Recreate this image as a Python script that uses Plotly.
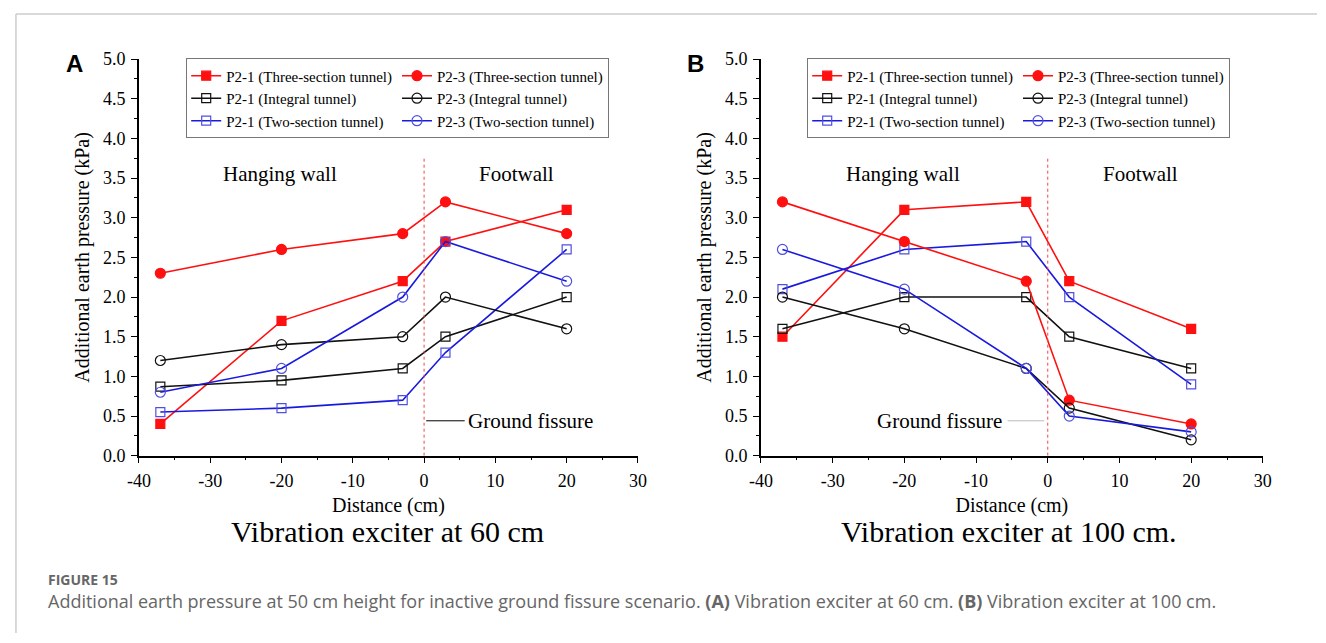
import plotly.graph_objects as go

distance = [-37, -20, -3, 3, 20]

# Panel A: vibration exciter at 60 cm
a_p21_three = [0.4, 1.7, 2.2, 2.7, 3.1]
a_p23_three = [2.3, 2.6, 2.8, 3.2, 2.8]
a_p21_integral = [0.87, 0.95, 1.1, 1.5, 2.0]
a_p23_integral = [1.2, 1.4, 1.5, 2.0, 1.6]
a_p21_two = [0.55, 0.6, 0.7, 1.3, 2.6]
a_p23_two = [0.8, 1.1, 2.0, 2.7, 2.2]

# Panel B: vibration exciter at 100 cm
b_p21_three = [1.5, 3.1, 3.2, 2.2, 1.6]
b_p23_three = [3.2, 2.7, 2.2, 0.7, 0.4]
b_p21_integral = [1.6, 2.0, 2.0, 1.5, 1.1]
b_p23_integral = [2.0, 1.6, 1.1, 0.6, 0.2]
b_p21_two = [2.1, 2.6, 2.7, 2.0, 0.9]
b_p23_two = [2.6, 2.1, 1.1, 0.5, 0.3]

series_names = [
    "P2-1 (Three-section tunnel)", "P2-1 (Integral tunnel)", "P2-1 (Two-section tunnel)",
    "P2-3 (Three-section tunnel)", "P2-3 (Integral tunnel)", "P2-3 (Two-section tunnel)",
]

x_tick_values = [-40, -30, -20, -10, 0, 10, 20, 30]
x_tick_labels = ["-40", "-30", "-20", "-10", "0", "10", "20", "30"]
y_tick_values = [0.0, 0.5, 1.0, 1.5, 2.0, 2.5, 3.0, 3.5, 4.0, 4.5, 5.0]
y_tick_labels = ["0.0", "0.5", "1.0", "1.5", "2.0", "2.5", "3.0", "3.5", "4.0", "4.5", "5.0"]

W, H = 1326, 643
SERIF = "Liberation Serif"
RED = "#ff1010"
BLUE = "#1a1adf"
BLACK = "#111111"

styles = [
    dict(color=RED, symbol="square", fill=RED, size=9, group="P21"),
    dict(color=BLACK, symbol="square-open", fill=BLACK, size=9, group="P21"),
    dict(color=BLUE, symbol="square-open", fill="#5050e0", size=9, group="P21"),
    dict(color=RED, symbol="circle", fill=RED, size=10, group="P23"),
    dict(color=BLACK, symbol="circle-open", fill=BLACK, size=10, group="P23"),
    dict(color=BLUE, symbol="circle-open", fill="#5050e0", size=10, group="P23"),
]

panel_a = [a_p21_three, a_p21_integral, a_p21_two, a_p23_three, a_p23_integral, a_p23_two]
panel_b = [b_p21_three, b_p21_integral, b_p21_two, b_p23_three, b_p23_integral, b_p23_two]

fig = go.Figure()

def add_panel(values, xa, ya, legend):
    for name, vals, st in zip(series_names, values, styles):
        fig.add_trace(go.Scatter(
            x=distance, y=vals, name=name, mode="lines+markers",
            xaxis=xa, yaxis=ya, legend=legend, legendgroup=legend + st["group"],
            line=dict(color=st["color"], width=1.6),
            marker=dict(symbol=st["symbol"], size=st["size"], color=st["fill"],
                        line=dict(color=st["fill"], width=1.2)),
        ))

add_panel(panel_a, "x", "y", "legend")
add_panel(panel_b, "x2", "y2", "legend2")

def px_x(p):
    return p / W

def px_y(p):
    return 1 - p / H

y_dom = [px_y(460), px_y(50.7)]

axis_common = dict(
    showline=True, linecolor="black", linewidth=1.6, showgrid=False, zeroline=False,
    ticks="outside", ticklen=6, tickwidth=1.4, tickcolor="black",
    tickfont=dict(family=SERIF, size=18, color="black"),
    ticklabelstandoff=2, mirror=False,
)

xaxis_common = dict(axis_common, range=[-40, 30], tickmode="array",
                    tickvals=x_tick_values, ticktext=x_tick_labels,
                    title=dict(text="Distance (cm)", font=dict(family=SERIF, size=20, color="black"), standoff=8))
xaxis_common["minor"] = dict(ticks="outside", ticklen=3, tickwidth=1.2, tickcolor="black",
                             tickmode="linear", tick0=-35, dtick=10)
yaxis_common = dict(axis_common, range=[0, 5.0], tickmode="array",
                    tickvals=y_tick_values, ticktext=y_tick_labels,
                    title=dict(text="Additional earth pressure (kPa)", font=dict(family=SERIF, size=20, color="black"), standoff=8))
yaxis_common["minor"] = dict(ticks="outside", ticklen=3, tickwidth=1.2, tickcolor="black",
                             tickmode="linear", tick0=0.25, dtick=0.5)

fig.update_layout(
    width=W, height=H, autosize=False,
    margin=dict(l=0, r=0, t=0, b=0),
    paper_bgcolor="white", plot_bgcolor="white",
    xaxis=dict(xaxis_common, domain=[px_x(129), px_x(636)], anchor="y"),
    yaxis=dict(yaxis_common, domain=y_dom, anchor="x"),
    xaxis2=dict(xaxis_common, domain=[px_x(761), px_x(1271)], anchor="y2"),
    yaxis2=dict(yaxis_common, domain=y_dom, anchor="x2"),
    showlegend=True,
)

legend_common = dict(
    orientation="h", traceorder="grouped", yanchor="top", xanchor="left",
    bgcolor="white", bordercolor="#777777", borderwidth=1,
    font=dict(family=SERIF, size=15, color="black"),
    itemwidth=30, tracegroupgap=0,
)
fig.update_layout(
    legend=dict(legend_common, x=px_x(177), y=px_y(50)),
    legend2=dict(legend_common, x=px_x(808), y=px_y(50)),
)

# ground fissure (dotted vertical line at distance 0)
for xa, ya in [("x", "y"), ("x2", "y2")]:
    fig.add_shape(type="line", xref=xa, yref=ya, x0=0, x1=0, y0=0, y1=3.75,
                  line=dict(color="#ee4444", width=1, dash="dot"))

ann_font = dict(family=SERIF, size=21, color="black")
for xa, ya in [("x", "y"), ("x2", "y2")]:
    fig.add_annotation(xref=xa, yref=ya, x=-20.2, y=3.55, text="Hanging wall",
                       xanchor="center", yanchor="middle", showarrow=False, font=ann_font)
    fig.add_annotation(xref=xa, yref=ya, x=12.9, y=3.55, text="Footwall",
                       xanchor="center", yanchor="middle", showarrow=False, font=ann_font)

fig.add_shape(type="line", xref="x", yref="y", x0=0.3, x1=5.7, y0=0.44, y1=0.44,
              line=dict(color="black", width=1))
fig.add_annotation(xref="x", yref="y", x=5.9, y=0.44, text="Ground fissure", xanchor="left",
                   yanchor="middle", showarrow=False, font=ann_font)
fig.add_shape(type="line", xref="x2", yref="y2", x0=-5.6, x1=-0.5, y0=0.44, y1=0.44,
              line=dict(color="#bbbbbb", width=1))
fig.add_annotation(xref="x2", yref="y2", x=-6.1, y=0.44, text="Ground fissure", xanchor="right",
                   yanchor="middle", showarrow=False, font=ann_font)

for lx, letter in [(63, "A"), (694, "B")]:
    fig.add_annotation(xref="paper", yref="paper", x=px_x(lx), y=px_y(55), text="<b>%s</b>" % letter,
                       xanchor="center", yanchor="middle", showarrow=False,
                       font=dict(family="Liberation Sans", size=24, color="black"))

fig.add_annotation(xref="paper", yref="paper", x=px_x(382), y=px_y(538), text="Vibration exciter at 60 cm",
                   xanchor="center", yanchor="middle", showarrow=False,
                   font=dict(family=SERIF, size=30, color="black"))
fig.add_annotation(xref="paper", yref="paper", x=px_x(1013), y=px_y(538), text="Vibration exciter at 100 cm.",
                   xanchor="center", yanchor="middle", showarrow=False,
                   font=dict(family=SERIF, size=30, color="black"))

fig.add_annotation(xref="paper", yref="paper", x=px_x(35), y=px_y(588), xanchor="left", yanchor="middle",
                   text="<b>FIGURE 15</b>", showarrow=False,
                   font=dict(family="Open Sans", size=14, color="#666666"))
fig.add_annotation(xref="paper", yref="paper", x=px_x(35), y=px_y(610), xanchor="left", yanchor="middle",
                   text="Additional earth pressure at 50 cm height for inactive ground fissure scenario. "
                        "<b>(A)</b> Vibration exciter at 60 cm. <b>(B)</b> Vibration exciter at 100 cm.",
                   showarrow=False,
                   font=dict(family="Open Sans", size=18, color="#666666"))

fig.add_shape(type="line", xref="paper", yref="paper", x0=px_x(4), x1=1, y0=px_y(4), y1=px_y(4),
              line=dict(color="#cccccc", width=1.5))
fig.add_shape(type="line", xref="paper", yref="paper", x0=px_x(4), x1=px_x(4), y0=0, y1=px_y(4),
              line=dict(color="#cccccc", width=1.5))

fig.write_html("out.html", post_script="document.body.style.margin='0';")
